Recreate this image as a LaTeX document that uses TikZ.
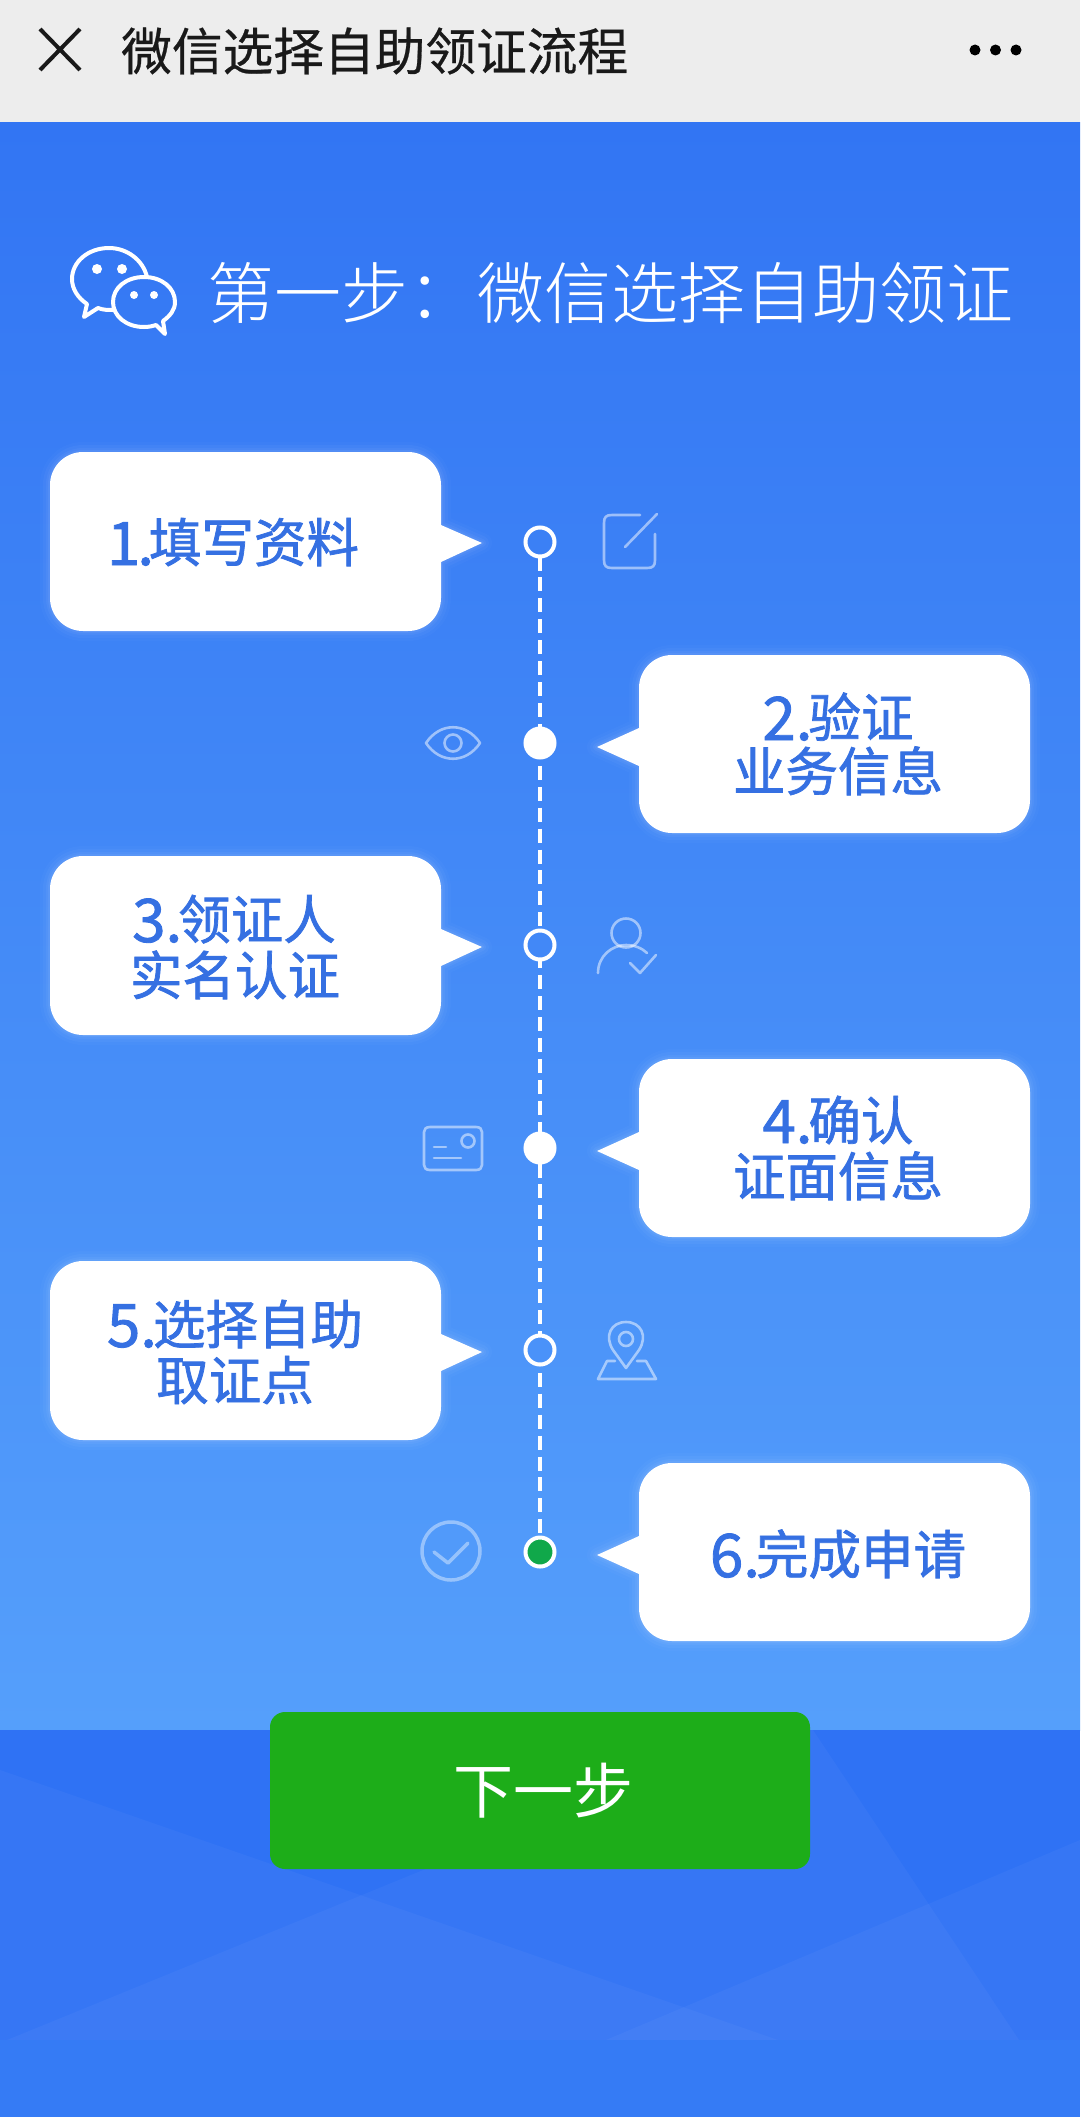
\documentclass[tikz,border=0pt]{standalone}
\usepackage{fontspec}
\newfontfamily\cjk{Noto Sans CJK SC}
\newfontfamily\cjkbold{Noto Sans CJK SC}[FakeBold=1.4]
\newfontfamily\cjkhead{Noto Sans CJK SC}[FakeBold=0.5]
\newfontfamily\cjklight{Noto Sans CJK SC Light}
\usetikzlibrary{calc}
\definecolor{hdr}{HTML}{EDEDED}
\definecolor{topblue}{HTML}{3275F3}
\definecolor{botblue}{HTML}{559FFB}
\definecolor{bandblue}{HTML}{2F72F4}
\definecolor{tailblue}{HTML}{357BF5}
\definecolor{txtblue}{HTML}{3570E2}
\definecolor{btn}{HTML}{1DAD19}
\definecolor{okgreen}{HTML}{10A84A}
\newcommand{\dg}[1]{\raisebox{-3pt}{\fontsize{60}{54}\selectfont #1}\kern-4pt}
\tikzset{
  x=1pt,y=-1pt,
  bubtxt/.style={font=\cjkbold\fontsize{52.5}{54}\selectfont,text=txtblue,inner sep=0pt,text height=46pt,text depth=6pt},
  icon/.style={draw=white,draw opacity=.5,line width=2.6pt,line cap=round,line join=round},
  pale/.style={fill=white,fill opacity=.035},
  dot/.style={circle,minimum size=29pt,inner sep=0pt,draw=white,line width=4pt},
  dotfull/.style={dot,fill=white},
  dotgreen/.style={dot,fill=okgreen},
  timeline/.style={draw=white,line width=4pt,dash pattern=on 14pt off 6.93pt,dash phase=6.4pt},
}
\newcommand{\leftbub}[1]{%
  \foreach \w/\o in {20/.02,14/.03,8/.04,4/.05}{
    \draw[white,line width=\w pt,opacity=\o,line join=round] (50+33,#1-89) -- (441-33,#1-89) arc[start angle=-90,end angle=0,radius=33] -- (441,#1-16) -- (482,#1+2) -- (441,#1+21) -- (441,#1+57) arc[start angle=0,end angle=90,radius=33] -- (50+33,#1+90) arc[start angle=90,end angle=180,radius=33] -- (50,#1-56) arc[start angle=180,end angle=270,radius=33] -- cycle;}
  \fill[white] (50+33,#1-89) -- (441-33,#1-89) arc[start angle=-90,end angle=0,radius=33] -- (441,#1-16) -- (482,#1+2) -- (441,#1+21) -- (441,#1+57) arc[start angle=0,end angle=90,radius=33] -- (50+33,#1+90) arc[start angle=90,end angle=180,radius=33] -- (50,#1-56) arc[start angle=180,end angle=270,radius=33] -- cycle;}
\newcommand{\rightbub}[1]{%
  \foreach \w/\o in {20/.02,14/.03,8/.04,4/.05}{
    \draw[white,line width=\w pt,opacity=\o,line join=round] (639+33,#1-89) -- (1030-33,#1-89) arc[start angle=-90,end angle=0,radius=33] -- (1030,#1+56) arc[start angle=0,end angle=90,radius=33] -- (639+33,#1+89) arc[start angle=90,end angle=180,radius=33] -- (639,#1+22) -- (597,#1+3) -- (639,#1-16) -- (639,#1-56) arc[start angle=180,end angle=270,radius=33] -- cycle;}
  \fill[white] (639+33,#1-89) -- (1030-33,#1-89) arc[start angle=-90,end angle=0,radius=33] -- (1030,#1+56) arc[start angle=0,end angle=90,radius=33] -- (639+33,#1+89) arc[start angle=90,end angle=180,radius=33] -- (639,#1+22) -- (597,#1+3) -- (639,#1-16) -- (639,#1-56) arc[start angle=180,end angle=270,radius=33] -- cycle;}
\begin{document}
\begin{tikzpicture}
\useasboundingbox (0,0) rectangle (1080,2117);
% backgrounds
\fill[hdr] (0,0) rectangle (1080,122);
\shade[top color=topblue,bottom color=botblue] (0,122) rectangle (1080,1730);
\fill[bandblue] (0,1730) rectangle (1080,2040);
\fill[tailblue] (0,2040) rectangle (1080,2117);
\fill[pale] (0,1770) -- (778,2040) -- (0,2040) -- cycle;
\fill[pale] (7,2040) -- (766,1730) -- (813,1730) -- (1019,2040) -- cycle;
\fill[pale] (606,2040) -- (1080,1840) -- (1080,2040) -- cycle;
% header
\coordinate (xa) at (40,29); \coordinate (xb) at (80,70);
\coordinate (xc) at (80,29); \coordinate (xd) at (40,70);
\draw[line width=4pt,black!90] (xa) -- (xb) (xc) -- (xd);
\node[font=\cjkhead\fontsize{50.7}{50}\selectfont,text=black!90,anchor=west,inner sep=0pt] (hdrtitle) at (121,51) {微信选择自助领证流程};
\fill[black] (975,50) circle[radius=5.5] (995.5,50) circle[radius=5.5] (1016,50) circle[radius=5.5];
% title
\node[font=\cjklight\fontsize{67}{66}\selectfont,text=white,anchor=west,inner sep=0pt] (ttl) at (207,293) {第一步：\hspace{2pt}微信选择自助领证};
% wechat logo
\draw[white,line width=4pt,line join=round,line cap=round] (147,277) .. controls (143,260) and (127,248) .. (109,248) .. controls (88,248) and (72,262) .. (72,279) .. controls (72,289) and (78,298) .. (87,304) -- (84,317) -- (98,308) .. controls (103,310) and (108,310) .. (113,310);
\draw[white,line width=4pt,line join=round] (144,277) .. controls (126,277) and (113,288) .. (113,302) .. controls (113,316) and (126,327) .. (144,327) .. controls (149,327) and (153,326) .. (156,325) -- (165,334) -- (163,321) .. controls (170,316) and (175,310) .. (175,302) .. controls (175,288) and (162,277) .. (144,277) -- cycle;
\fill[white] (97,269) circle[radius=5] (122,269) circle[radius=5] (134,295) circle[radius=4] (154,295) circle[radius=4];
% timeline
\coordinate (d1) at (540,542);
\coordinate (d2) at (540,743);
\coordinate (d3) at (540,945);
\coordinate (d4) at (540,1148);
\coordinate (d5) at (540,1350);
\coordinate (d6) at (540,1552);
\draw[timeline] (d1) -- (d6);
\node[dot,fill=topblue!75!botblue] (n1) at (d1) {};
\node[dotfull] (n2) at (d2) {};
\node[dot,fill=topblue!55!botblue] (n3) at (d3) {};
\node[dotfull] (n4) at (d4) {};
\node[dot,fill=topblue!30!botblue] (n5) at (d5) {};
\node[dotgreen] (n6) at (d6) {};
% bubbles
\leftbub{541}
\rightbub{744}
\leftbub{945}
\rightbub{1148}
\leftbub{1350}
\rightbub{1552}
\node[bubtxt] (t1) at (233,542) {\raisebox{-3pt}{\fontsize{60}{54}\selectfont 1\kern-3pt.}\kern-5pt填写资料};
\node[bubtxt] (t2a) at (838,717) {\dg{2.}验证};
\node[bubtxt] (t2b) at (838,771) {业务信息};
\node[bubtxt] (t3a) at (234,919) {\dg{3.}领证人};
\node[bubtxt] (t3b) at (235,975) {实名认证};
\node[bubtxt] (t4a) at (838,1120) {\dg{4.}确认};
\node[bubtxt] (t4b) at (838,1176) {证面信息};
\node[bubtxt] (t5a) at (235,1324) {\dg{5.}选择自助};
\node[bubtxt] (t5b) at (235,1380) {取证点};
\node[bubtxt] (t6) at (838,1554) {\dg{6.}完成申请};
% icons
\draw[icon] (640,515) -- (612,515) .. controls (606,515) and (604,517) .. (604,523) -- (604,560) .. controls (604,566) and (606,568) .. (612,568) -- (647,568) .. controls (653,568) and (655,566) .. (655,560) -- (655,534);
\draw[icon] (625,547) -- (657,514);
\draw[icon] (426,743) .. controls (440,722) and (466,722) .. (480,743) .. controls (466,764) and (440,764) .. (426,743) -- cycle;
\draw[icon] (453,743) circle[radius=8.5];
\draw[icon] (626,933) circle[radius=14.5];
\draw[icon] (598,973) .. controls (598,956) and (612,945) .. (626,945) .. controls (634,945) and (642,948) .. (647,953);
\draw[icon] (630,963) -- (640,973) -- (656,955);
\draw[icon] (430,1127) -- (476,1127) .. controls (480,1127) and (482,1129) .. (482,1132) -- (482,1165) .. controls (482,1168) and (480,1170) .. (476,1170) -- (430,1170) .. controls (426,1170) and (424,1168) .. (424,1165) -- (424,1132) .. controls (424,1129) and (426,1127) .. (430,1127) -- cycle;
\draw[icon] (468,1141) circle[radius=6.5];
\draw[icon] (434,1147) -- (446,1147);
\draw[icon] (434,1158) -- (461,1158);
\draw[icon] (626,1368) -- (613,1350) .. controls (604,1336) and (611,1322) .. (626,1322) .. controls (641,1322) and (648,1336) .. (639,1350) -- cycle;
\draw[icon] (626,1339) circle[radius=7];
\draw[icon] (615,1361) -- (607,1361) -- (598,1379) -- (656,1379) -- (646,1361) -- (637,1361);
\draw[icon,line width=3.5pt,draw opacity=.4] (451,1551) circle[radius=29];
\draw[icon,line width=3.5pt,draw opacity=.4] (434,1552) -- (448,1563) -- (468,1543);
% button
\node[fill=btn,rounded corners=15pt,minimum width=540pt,minimum height=157pt,inner sep=0pt] (next) at (540,1790.5) {};
\node[font=\cjk\fontsize{60}{57}\selectfont,text=white,inner sep=0pt] (nexttxt) at ([xshift=3pt]next.center) {下一步};
\end{tikzpicture}
\end{document}
